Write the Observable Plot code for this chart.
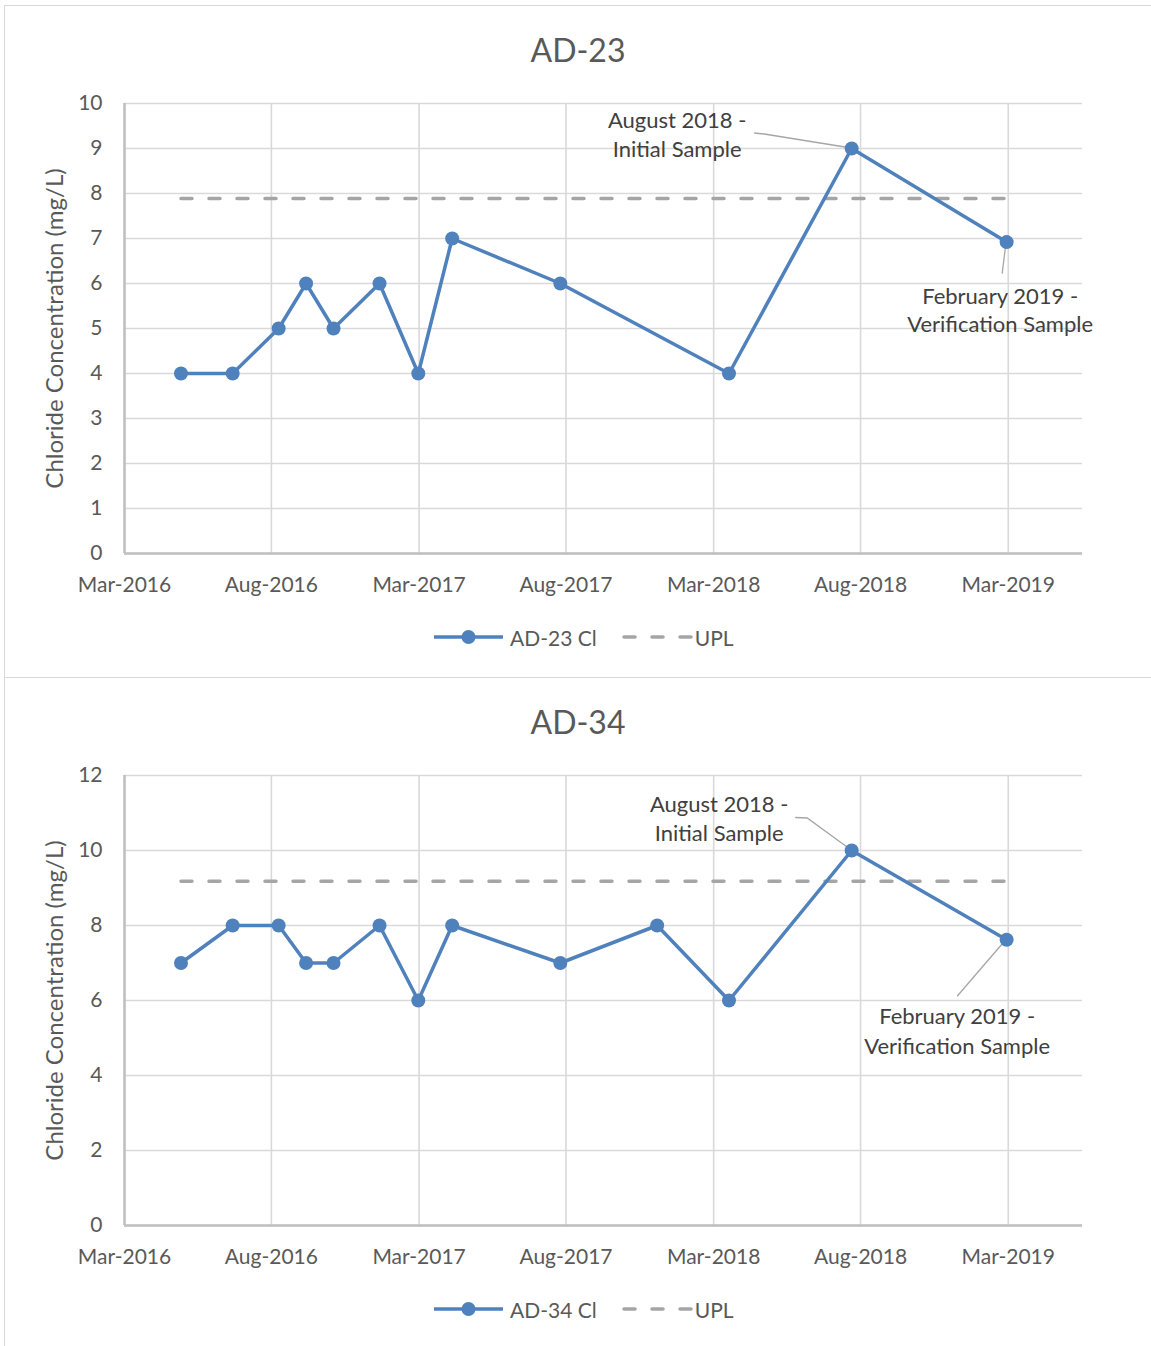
<!DOCTYPE html>
<html>
<head>
<meta charset="utf-8">
<script src="https://cdn.jsdelivr.net/npm/d3@7"></script>
<script src="https://cdn.jsdelivr.net/npm/@observablehq/plot@0.6"></script>
<style>
  html, body { margin: 0; padding: 0; background: #fff; }
  body { font-family: Lato, "Open Sans", sans-serif; }
  #root { position: relative; width: 1151px; height: 1346px; overflow: hidden; background: #fff; }
  .panel { position: absolute; left: 4px; width: 1170px; border: 1.5px solid #d9d9d9; box-sizing: border-box; background: #fff; }
  .title { position: absolute; left: 0; width: 1156px; text-align: center; font-size: 32px; line-height: 1; color: #595959; white-space: nowrap; }
  .legend { position: absolute; height: 30px; display: flex; align-items: center; font-size: 21px; color: #595959; white-space: nowrap; }
  .legend svg { display: block; }
  .plotbox { position: absolute; left: 0; }
</style>
</head>
<body>
<div id="root"></div>
<script>
// ---------- data ----------
const ad23Dates = ["2016-05-10","2016-07-13","2016-09-08","2016-10-12","2016-11-15","2017-01-11","2017-02-28","2017-04-11","2017-08-23","2018-03-20","2018-08-19","2019-02-27"];
const ad23Cl    = [4, 4, 5, 6, 5, 6, 4, 7, 6, 4, 9, 6.92];
const ad23Upl   = 7.89;

const ad34Dates = ["2016-05-10","2016-07-13","2016-09-08","2016-10-12","2016-11-15","2017-01-11","2017-02-28","2017-04-11","2017-08-23","2017-12-21","2018-03-20","2018-08-19","2019-02-27"];
const ad34Cl    = [7, 8, 8, 7, 7, 8, 6, 8, 7, 8, 6, 10, 7.62];
const ad34Upl   = 9.18;

const xTickDates = ["2016-03-01","2016-08-30","2017-03-01","2017-08-30","2018-03-01","2018-08-30","2019-03-01"];
const xDomain    = ["2016-03-01","2019-06-01"];
const ad23YTicks = [0,1,2,3,4,5,6,7,8,9,10];
const ad34YTicks = [0,2,4,6,8,10,12];

const yAxisLabel        = "Chloride Concentration (mg/L)";
const initialLabel      = ["August 2018 -", "Initial Sample"];
const verificationLabel = ["February 2019 -", "Verification Sample"];
const uplName = "UPL";

// ---------- drawing ----------
const BLUE = "#4f81bd";
const UPL_GREY = "#a5a5a5";
const FONT = "Lato, 'Open Sans', sans-serif";
const parse = s => new Date(s + "T00:00:00Z");
const root = document.getElementById("root");

function legendSwatchLine() {
  return `<svg width="71" height="20"><line x1="1" y1="10" x2="70" y2="10" stroke="${BLUE}" stroke-width="3.5"/><circle cx="35.5" cy="10" r="7" fill="${BLUE}"/></svg>`;
}
function legendSwatchDash() {
  return `<svg width="72" height="20"><line x1="3" y1="10" x2="70" y2="10" stroke="${UPL_GREY}" stroke-width="3.5" stroke-dasharray="11,17" stroke-linecap="round"/></svg>`;
}

function drawPanel(cfg) {
  const off = cfg.offset;
  const box = document.createElement("div");
  box.className = "panel";
  box.style.top = (5 + off) + "px";
  box.style.height = cfg.boxHeight + "px";
  root.appendChild(box);

  const t = document.createElement("div");
  t.className = "title";
  t.style.top = (34 + off) + "px";
  t.textContent = cfg.title;
  root.appendChild(t);

  const rows = cfg.dates.map((d, i) => ({date: parse(d), value: cfg.values[i]}));
  const uplRows = [
    {date: rows[0].date, value: cfg.upl},
    {date: rows[rows.length - 1].date, value: cfg.upl}
  ];
  const yTicks = cfg.yTicks;
  const xTicks = xTickDates.map(parse);

  const notesMark = (index, scales) => {
    const g = d3.create("svg:g")
      .attr("font-family", FONT).attr("font-size", 22);
    for (const n of cfg.notes) {
      const r = rows[n.i];
      const px = scales.x(r.date), py = scales.y(r.value);
      g.append("path")
        .attr("d", d3.line()(n.leader.map(([dx, dy]) => [px + dx, py + dy])))
        .attr("fill", "none").attr("stroke", "#a6a6a6").attr("stroke-width", 1.3);
      n.lines.forEach((txt, k) => {
        g.append("text")
          .attr("x", px + n.tx).attr("y", py + n.ty[k])
          .attr("dy", "0.36em").attr("text-anchor", "middle")
          .attr("fill", "#404040").text(txt);
      });
    }
    return g.node();
  };

  const chart = Plot.plot({
    width: 1151,
    height: 523,
    marginTop: 23,
    marginBottom: 50,
    marginLeft: 124,
    marginRight: 69,
    style: {fontFamily: FONT, fontSize: "21px", color: "#595959", background: "transparent", overflow: "visible"},
    x: {type: "utc", domain: xDomain.map(parse)},
    y: {domain: [0, yTicks[yTicks.length - 1]]},
    marks: [
      Plot.ruleY(yTicks, {stroke: "#d9d9d9", strokeWidth: 1.6}),
      Plot.ruleX(xTicks, {stroke: "#d9d9d9", strokeWidth: 1.6}),
      Plot.ruleX([xTicks[0]], {stroke: "#bfbfbf", strokeWidth: 2.5}),
      Plot.ruleY([0], {stroke: "#bfbfbf", strokeWidth: 2.5}),
      Plot.axisY({ticks: yTicks, tickSize: 0, tickPadding: 22, label: null, fill: "#595959", fontSize: 21}),
      Plot.axisX({ticks: xTicks, tickSize: 0, tickPadding: 24, label: null, tickFormat: d3.utcFormat("%b-%Y"), fill: "#595959", fontSize: 21}),
      Plot.text([yAxisLabel], {text: d => d, frameAnchor: "left", textAnchor: "middle", rotate: -90, dx: -69, fill: "#595959", fontSize: 24}),
      Plot.line(uplRows, {x: "date", y: "value", stroke: UPL_GREY, strokeWidth: 3.5, strokeDasharray: "11,17", strokeLinecap: "round"}),
      Plot.line(rows, {x: "date", y: "value", stroke: BLUE, strokeWidth: 3.5}),
      notesMark,
      Plot.dot(rows, {x: "date", y: "value", r: 7, fill: BLUE, stroke: "none"})
    ]
  });
  const holder = document.createElement("div");
  holder.className = "plotbox";
  holder.style.top = (80 + off) + "px";
  holder.appendChild(chart);
  root.appendChild(holder);

  const lg = document.createElement("div");
  lg.className = "legend";
  lg.style.left = "433px";
  lg.style.top = (622 + off) + "px";
  lg.innerHTML = `${legendSwatchLine()}<span style="margin-left:6px">${cfg.seriesName}</span>` +
                 `<span style="display:inline-block;width:24px"></span>${legendSwatchDash()}<span style="margin-left:2px">${uplName}</span>`;
  root.appendChild(lg);
}

drawPanel({
  offset: 0, boxHeight: 673, title: "AD-23", seriesName: "AD-23 Cl",
  dates: ad23Dates, values: ad23Cl, upl: ad23Upl, yTicks: ad23YTicks,
  notes: [
    {i: ad23Dates.length - 2, lines: initialLabel, tx: -174, ty: [-27.5, 1.5], leader: [[-97, -15], [-87, -14], [0, 0]]},
    {i: ad23Dates.length - 1, lines: verificationLabel, tx: -6, ty: [54, 82], leader: [[0, 0], [-4, 32]]}
  ]
});
drawPanel({
  offset: 672, boxHeight: 720, title: "AD-34", seriesName: "AD-34 Cl",
  dates: ad34Dates, values: ad34Cl, upl: ad34Upl, yTicks: ad34YTicks,
  notes: [
    {i: ad34Dates.length - 2, lines: initialLabel, tx: -132, ty: [-45.5, -16.5], leader: [[-56, -32.5], [-44, -32], [0, 0]]},
    {i: ad34Dates.length - 1, lines: verificationLabel, tx: -49, ty: [77, 107], leader: [[0, 0], [-49, 57]]}
  ]
});
</script>
</body>
</html>
